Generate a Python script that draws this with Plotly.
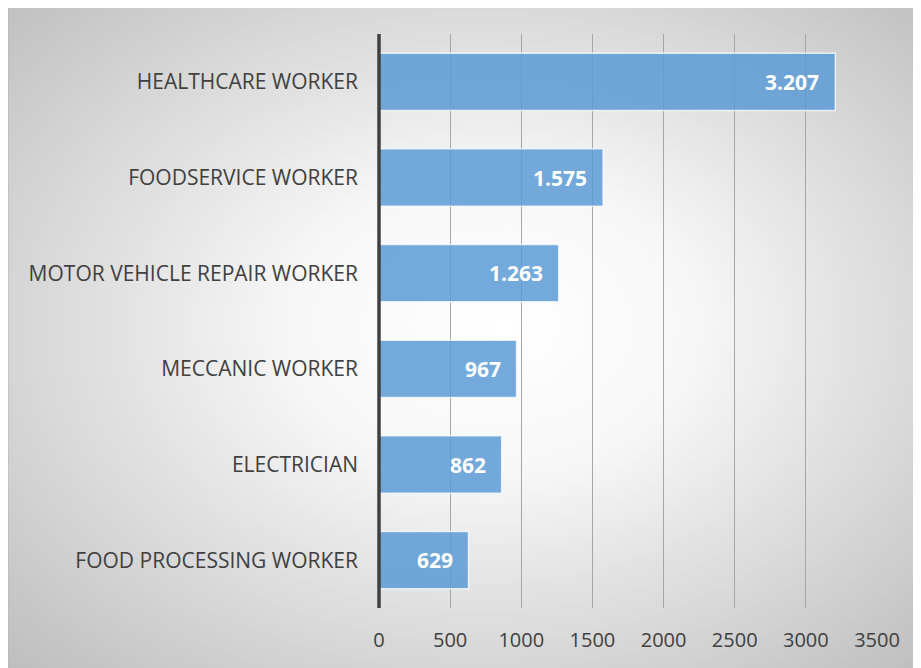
import base64
import plotly.graph_objects as go

categories = ["FOOD PROCESSING WORKER", "ELECTRICIAN", "MECCANIC WORKER",
              "MOTOR VEHICLE REPAIR WORKER", "FOODSERVICE WORKER", "HEALTHCARE WORKER"]
values = [629, 862, 967, 1263, 1575, 3207]
x_ticks = [0, 500, 1000, 1500, 2000, 2500, 3000, 3500]

OFF = 8  # page body margin
W, H = 921, 668
L, R, T, B = 379 - OFF, 44 + OFF, 34 - OFF, 60 + OFF
pw, ph = W - L - R, H - T - B

bx0, by0 = 7 - OFF, 4 - OFF
bw, bh = W - bx0, H - by0

svg = f'''<svg xmlns="http://www.w3.org/2000/svg" width="{bw}" height="{bh}" viewBox="0 0 {bw} {bh}" preserveAspectRatio="none">
<defs><radialGradient id="g" cx="50%" cy="48%" r="72%" fx="54%" fy="48%">
<stop offset="0" stop-color="#ffffff"/><stop offset="0.3" stop-color="#f7f7f7"/>
<stop offset="1" stop-color="#bdbdbd"/></radialGradient></defs>
<rect x="0" y="0" width="{bw}" height="{bh}" fill="url(#g)"/>
<rect x="0.75" y="0.75" width="{bw + 20}" height="{bh + 20}" fill="none" stroke="#b3b3b3" stroke-width="1.5"/>
</svg>'''
src = "data:image/svg+xml;base64," + base64.b64encode(svg.encode()).decode()

fig = go.Figure()
fig.add_trace(go.Bar(
    y=categories, x=values, orientation="h",
    marker=dict(color="rgba(91,155,213,0.85)",
                line=dict(color="rgba(255,255,255,0.75)", width=1.5)),
    hoverinfo="skip",
))

for c, v in zip(categories, values):
    fig.add_annotation(x=v, y=c, text=f"{v:,}".replace(",", "."), showarrow=False,
                       xanchor="right", xshift=-14,
                       font=dict(family="Open Sans", size=21, color="white", weight="bold"))

fig.add_layout_image(dict(
    source=src, xref="paper", yref="paper",
    x=(bx0 - L) / pw, y=1 + (T - by0) / ph,
    sizex=bw / pw, sizey=bh / ph,
    xanchor="left", yanchor="top", sizing="stretch", layer="below"))

fig.update_layout(
    width=W, height=H,
    margin=dict(l=L, r=R, t=T, b=B, pad=0),
    paper_bgcolor="white", plot_bgcolor="rgba(0,0,0,0)",
    showlegend=False, bargap=0.4,
    font=dict(family="Open Sans", color="#404040"),
    xaxis=dict(range=[0, 3500], tickvals=x_ticks, ticktext=[str(t) for t in x_ticks],
               showgrid=True, gridcolor="#a6a6a6", gridwidth=1,
               zeroline=False, showline=False, ticks="",
               tickfont=dict(size=20, color="#404040"), ticklabelstandoff=18),
    yaxis=dict(showgrid=False, zeroline=False, showline=False, ticks="",
               tickfont=dict(size=21, color="#404040"), ticklabelstandoff=20,
               categoryorder="array", categoryarray=categories),
)
fig.add_shape(type="line", xref="paper", yref="paper", x0=0, x1=0, y0=0, y1=1,
              line=dict(color="#404040", width=3.5), layer="above")

fig.write_html("out.html")
